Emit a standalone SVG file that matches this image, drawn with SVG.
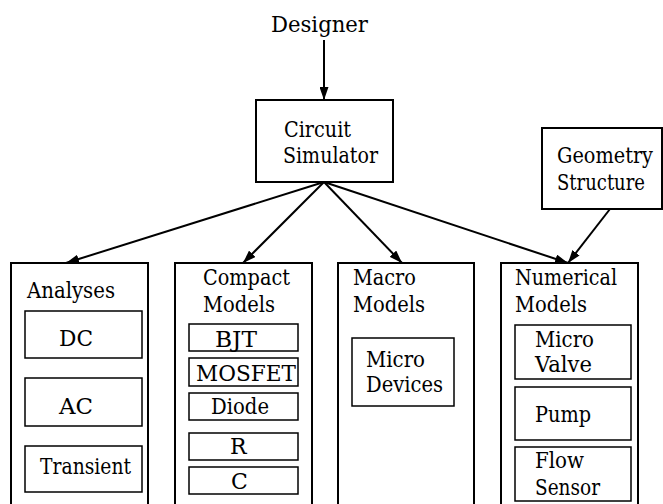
<svg xmlns="http://www.w3.org/2000/svg" width="663" height="504" viewBox="0 0 663 504">
  <style>
    text { font-family: 'DejaVu Serif', serif; font-size: 22px; fill: #000; }
    .box { fill: #fff; stroke: #000; stroke-width: 2; }
    .inner { fill: #fff; stroke: #000; stroke-width: 1.5; }
    .edge { stroke: #000; stroke-width: 2; fill: none; marker-end: url(#arrow); }
  </style>
  <defs>
    <marker id="arrow" viewBox="0 0 13 9" refX="13" refY="4.5" markerWidth="13" markerHeight="9" markerUnits="userSpaceOnUse" orient="auto">
      <path d="M0,0 L13,4.5 L0,9 Z" fill="#000"/>
    </marker>
  </defs>
  <rect width="663" height="504" fill="#fff"/>

  <g id="designer">
    <text x="271" y="32" font-size="23" textLength="97" lengthAdjust="spacingAndGlyphs">Designer</text>
  </g>

  <g id="circuit-simulator">
    <rect class="box" x="256" y="100" width="137" height="82"/>
    <text x="284" y="137" textLength="67" lengthAdjust="spacingAndGlyphs">Circuit</text>
    <text x="283" y="163" textLength="95" lengthAdjust="spacingAndGlyphs">Simulator</text>
  </g>

  <g id="geometry-structure">
    <rect class="box" x="542" y="128" width="120" height="81"/>
    <text x="557" y="163" textLength="96" lengthAdjust="spacingAndGlyphs">Geometry</text>
    <text x="557" y="190" textLength="88" lengthAdjust="spacingAndGlyphs">Structure</text>
  </g>

  <g id="analyses">
    <rect class="box" x="11" y="263" width="137" height="250"/>
    <text x="27" y="298" textLength="88" lengthAdjust="spacingAndGlyphs">Analyses</text>
    <rect class="inner" x="25" y="311" width="117" height="47"/>
    <text x="59" y="346" textLength="34" lengthAdjust="spacingAndGlyphs">DC</text>
    <rect class="inner" x="25" y="378" width="117" height="48"/>
    <text x="59" y="414" textLength="34" lengthAdjust="spacingAndGlyphs">AC</text>
    <rect class="inner" x="25" y="446" width="117" height="46"/>
    <text x="40" y="474" textLength="91" lengthAdjust="spacingAndGlyphs">Transient</text>
  </g>

  <g id="compact-models">
    <rect class="box" x="175" y="263" width="137" height="250"/>
    <text x="203" y="285" textLength="87" lengthAdjust="spacingAndGlyphs">Compact</text>
    <text x="203" y="312" textLength="72" lengthAdjust="spacingAndGlyphs">Models</text>
    <rect class="inner" x="189" y="324" width="109" height="27"/>
    <text x="215" y="347" textLength="42" lengthAdjust="spacingAndGlyphs">BJT</text>
    <rect class="inner" x="189" y="358" width="109" height="28"/>
    <text x="196" y="381" textLength="100" lengthAdjust="spacingAndGlyphs">MOSFET</text>
    <rect class="inner" x="189" y="393" width="109" height="27"/>
    <text x="211" y="414" textLength="58" lengthAdjust="spacingAndGlyphs">Diode</text>
    <rect class="inner" x="189" y="433" width="109" height="27"/>
    <text x="230" y="454">R</text>
    <rect class="inner" x="189" y="467" width="109" height="27"/>
    <text x="231" y="489">C</text>
  </g>

  <g id="macro-models">
    <rect class="box" x="338" y="263" width="136" height="250"/>
    <text x="353" y="285" textLength="63" lengthAdjust="spacingAndGlyphs">Macro</text>
    <text x="353" y="312" textLength="72" lengthAdjust="spacingAndGlyphs">Models</text>
    <rect class="inner" x="352" y="338" width="102" height="68"/>
    <text x="366" y="367" textLength="59" lengthAdjust="spacingAndGlyphs">Micro</text>
    <text x="366" y="392" textLength="77" lengthAdjust="spacingAndGlyphs">Devices</text>
  </g>

  <g id="numerical-models">
    <rect class="box" x="501" y="263" width="137" height="250"/>
    <text x="515" y="285" textLength="102" lengthAdjust="spacingAndGlyphs">Numerical</text>
    <text x="515" y="312" textLength="72" lengthAdjust="spacingAndGlyphs">Models</text>
    <rect class="inner" x="515" y="325" width="116" height="54"/>
    <text x="535" y="347" textLength="59" lengthAdjust="spacingAndGlyphs">Micro</text>
    <text x="535" y="372" textLength="57" lengthAdjust="spacingAndGlyphs">Valve</text>
    <rect class="inner" x="515" y="387" width="116" height="53"/>
    <text x="535" y="422" textLength="56" lengthAdjust="spacingAndGlyphs">Pump</text>
    <rect class="inner" x="515" y="447" width="116" height="54"/>
    <text x="535" y="468" textLength="49" lengthAdjust="spacingAndGlyphs">Flow</text>
    <text x="535" y="495" textLength="65" lengthAdjust="spacingAndGlyphs">Sensor</text>
  </g>

  <g id="connectors">
    <line class="edge" x1="324" y1="40" x2="324" y2="100"/>
    <line class="edge" x1="324" y1="182" x2="66" y2="263"/>
    <line class="edge" x1="324" y1="182" x2="243" y2="263"/>
    <line class="edge" x1="324" y1="182" x2="402" y2="263"/>
    <line class="edge" x1="324" y1="182" x2="568" y2="263"/>
    <line class="edge" x1="610" y1="209" x2="568" y2="263"/>
  </g>
</svg>
